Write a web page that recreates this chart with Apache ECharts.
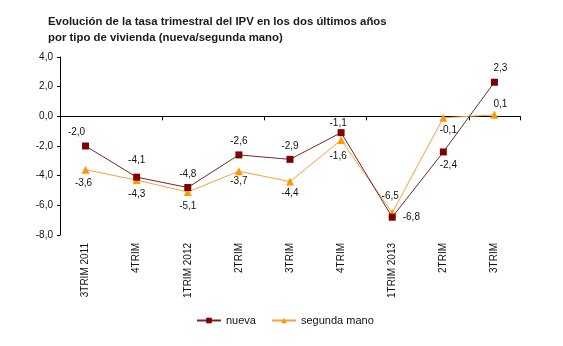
<!DOCTYPE html>
<html><head><meta charset="utf-8">
<script src="https://cdn.jsdelivr.net/npm/echarts@6/dist/echarts.min.js"></script>
<style>html,body{margin:0;padding:0;background:#fff}#c{width:563px;height:346px}</style>
</head><body><div id="c"></div>
<script>
var categories = ['3TRIM 2011','4TRIM','1TRIM 2012','2TRIM','3TRIM','4TRIM','1TRIM 2013','2TRIM','3TRIM'];
var nueva = [-2.0, -4.1, -4.8, -2.6, -2.9, -1.1, -6.8, -2.4, 2.3];
var segunda = [-3.6, -4.3, -5.1, -3.7, -4.4, -1.6, -6.5, -0.1, 0.1];
var yTicks = [-8, -6, -4, -2, 0, 2, 4];

// label placement (style only)
var nuevaPos = ['top','top','top','top','top','top','right','bottom','top'];
var nuevaOff = [[-9,0],[0,-3],[0,0],[0,0],[0,0],[-3,4],[2,0],[5,0],[6,0]];
var segPos = ['bottom','bottom','bottom','bottom','bottom','bottom','top','bottom','top'];
var segOff = [[-2,0],[0,0],[0,0],[0,-4],[0,-2],[-3,2],[-2,-3],[5,-2],[6,3]];

function fmt(v){ return v.toFixed(1).replace('.', ','); }
function build(vals, pos, off){
  return vals.map(function(v,i){
    return {value: v, label: {position: pos[i], offset: off[i]}};
  });
}

var font = 'Arial, "Liberation Sans", sans-serif';
var chart = echarts.init(document.getElementById('c'), null, {renderer:'canvas'});
chart.setOption({
  animation: false,
  backgroundColor: '#fff',
  title: {
    text: 'Evolución de la tasa trimestral del IPV en los dos últimos años\npor tipo de vivienda (nueva/segunda mano)',
    left: 43, top: 9,
    textStyle: {fontFamily: font, fontSize: 11.4, fontWeight: 'bold', color: '#1a1a1a', lineHeight: 16}
  },
  legend: {
    left: 191, top: 310,
    itemWidth: 24, itemHeight: 7, itemGap: 15,
    textStyle: {fontFamily: font, fontSize: 11, color: '#111'},
    data: ['nueva', 'segunda mano']
  },
  grid: {left: 60, right: 43, top: 57, bottom: 111, containLabel: false},
  xAxis: [{
    type: 'category', data: categories, boundaryGap: true,
    axisLine: {onZero: true, lineStyle: {color: '#000', width: 1}},
    axisTick: {show: true, length: 4, lineStyle: {color: '#000'}},
    axisLabel: {show: false},
    splitLine: {show: false}
  },{
    type: 'category', data: categories, boundaryGap: true, position: 'bottom',
    axisLine: {show: false, onZero: false},
    axisTick: {show: false},
    axisLabel: {show: true, rotate: 90, interval: 0, margin: 8, fontFamily: font, fontSize: 10, color: '#111'},
    splitLine: {show: false}
  }],
  yAxis: {
    type: 'value', min: -8, max: 4, interval: 2,
    axisLine: {show: true, lineStyle: {color: '#000', width: 1}},
    axisTick: {show: true, length: 3, lineStyle: {color: '#000'}},
    axisLabel: {fontFamily: font, fontSize: 10, color: '#111', margin: 7,
      formatter: function(v){ return fmt(v); }},
    splitLine: {show: false}
  },
  series: [{
    name: 'nueva', type: 'line', xAxisIndex: 0,
    data: build(nueva, nuevaPos, nuevaOff),
    symbol: 'rect', symbolSize: 7,
    itemStyle: {color: '#800000'},
    lineStyle: {color: '#6e2a2a', width: 1},
    label: {show: true, fontFamily: font, fontSize: 10, color: '#111', distance: 5,
      formatter: function(p){ return fmt(p.value); }},
    z: 3
  },{
    name: 'segunda mano', type: 'line', xAxisIndex: 0,
    data: build(segunda, segPos, segOff),
    symbol: 'triangle', symbolSize: 8,
    itemStyle: {color: '#ff9900'},
    lineStyle: {color: '#f8a040', width: 1},
    label: {show: true, fontFamily: font, fontSize: 10, color: '#111', distance: 5,
      formatter: function(p){ return fmt(p.value); }},
    z: 2
  }]
});
</script></body></html>
